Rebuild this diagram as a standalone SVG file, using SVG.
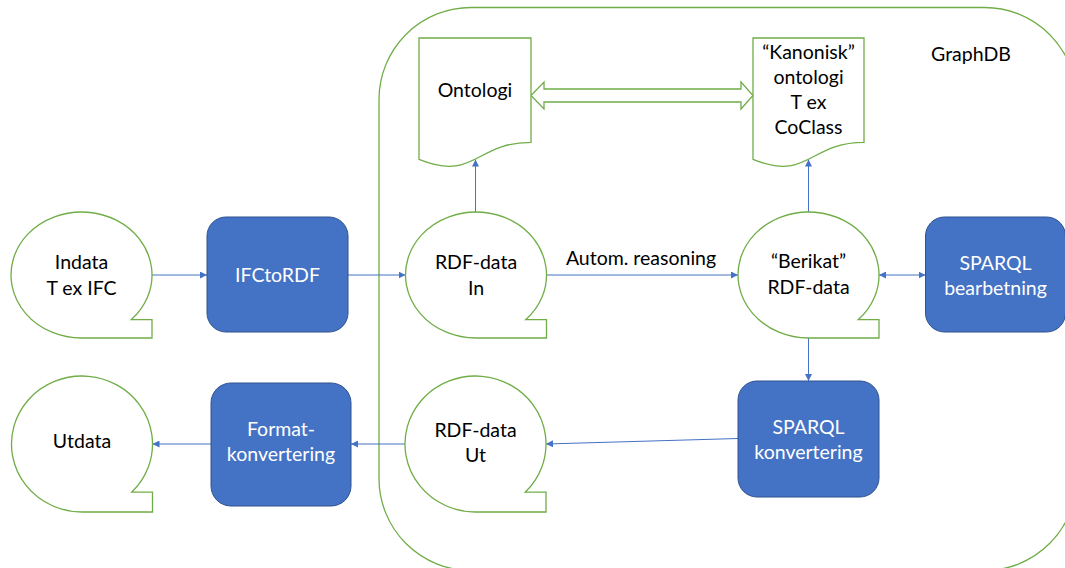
<svg xmlns="http://www.w3.org/2000/svg" width="1065" height="568" viewBox="0 0 1065 568">
  <style>
    .store, .doc, .frame, .dbl { fill: #FFFFFF; stroke: #70AD47; stroke-width: 1.3; }
    .frame { fill: none; }
    .proc { fill: #4472C4; stroke: #2F528F; stroke-width: 1; }
    text { font-family: Lato, "Liberation Sans", sans-serif; font-size: 19.5px; text-anchor: middle; }
    .dark { fill: #000000; }
    .light { fill: #FFFFFF; }
    .conn line { stroke: #4472C4; stroke-width: 1; fill: none; }
  </style>
  <defs>
    <marker id="head" viewBox="0 0 7 7" refX="7" refY="3.5" markerWidth="7" markerHeight="7" markerUnits="userSpaceOnUse" orient="auto-start-reverse">
      <path d="M0,0 L7,3.5 L0,7 Z" fill="#4472C4"/>
    </marker>
  </defs>
  <rect width="1065" height="568" fill="#FFFFFF"/>

  <!-- GraphDB boundary -->
  <g id="graphdb">
    <rect class="frame" x="379" y="7.5" width="697.5" height="563" rx="92" ry="92"/>
    <text class="dark" x="971" y="61">GraphDB</text>
  </g>

  <!-- connectors -->
  <g id="connectors" class="conn">
    <line x1="152" y1="275" x2="207" y2="275" marker-end="url(#head)"/>
    <line x1="348" y1="275" x2="405.5" y2="275" marker-end="url(#head)"/>
    <line x1="546.5" y1="275" x2="738" y2="275" marker-end="url(#head)"/>
    <line x1="879" y1="275" x2="925.5" y2="275" marker-start="url(#head)" marker-end="url(#head)"/>
    <line x1="475.5" y1="212" x2="475.5" y2="159.5" marker-end="url(#head)"/>
    <line x1="808.5" y1="212" x2="808.5" y2="159.5" marker-end="url(#head)"/>
    <line x1="808.5" y1="338" x2="808.5" y2="381" marker-end="url(#head)"/>
    <line x1="738" y1="438.5" x2="546" y2="444" marker-end="url(#head)"/>
    <line x1="405" y1="444" x2="351" y2="444" marker-end="url(#head)"/>
    <line x1="211" y1="444" x2="152.5" y2="444" marker-end="url(#head)"/>
    <polygon class="dbl" points="531,95.5 544,82 544,89 741,89 741,82 753,95.5 741,109 741,102 544,102 544,109"/>
    <text class="dark" x="641" y="265">Autom. reasoning</text>
  </g>

  <g id="indata">
    <path class="store" d="M81.5,338 A70.5,63 0 1 1 131.35,319.55 L152,319.55 L152,338 Z"/>
    <text class="dark" x="81.5" y="269">Indata</text>
    <text class="dark" x="81.5" y="295">T ex IFC</text>
  </g>

  <g id="ifctordf">
    <rect class="proc" x="207" y="217" width="141" height="115" rx="19" ry="19"/>
    <text class="light" x="277.5" y="282">IFCtoRDF</text>
  </g>

  <g id="rdf-in">
    <path class="store" d="M476,338 A70.5,63 0 1 1 525.85,319.55 L546.5,319.55 L546.5,338 Z"/>
    <text class="dark" x="476" y="269">RDF-data</text>
    <text class="dark" x="476" y="295">In</text>
  </g>

  <g id="berikat">
    <path class="store" d="M808.5,338 A70.5,63 0 1 1 858.35,319.55 L879,319.55 L879,338 Z"/>
    <text class="dark" x="808.5" y="268">“Berikat”</text>
    <text class="dark" x="808.5" y="294">RDF-data</text>
  </g>

  <g id="sparql-bearbetning">
    <rect class="proc" x="925.5" y="217" width="140" height="115" rx="19" ry="19"/>
    <text class="light" x="995.5" y="270">SPARQL</text>
    <text class="light" x="995.5" y="295">bearbetning</text>
  </g>

  <g id="ontologi">
    <path class="doc" d="M419,38 H531 V142.3 C475,142.3 475,182 419,159.4 Z"/>
    <text class="dark" x="475" y="97">Ontologi</text>
  </g>

  <g id="kanonisk">
    <path class="doc" d="M753,38 H864 V142.3 C808.5,142.3 808.5,182 753,159.4 Z"/>
    <text class="dark" x="808.5" y="59">“Kanonisk”</text>
    <text class="dark" x="808.5" y="84">ontologi</text>
    <text class="dark" x="808.5" y="109">T ex</text>
    <text class="dark" x="808.5" y="134">CoClass</text>
  </g>

  <g id="sparql-konvertering">
    <rect class="proc" x="738" y="381" width="141" height="116" rx="19" ry="19"/>
    <text class="light" x="808.5" y="434">SPARQL</text>
    <text class="light" x="808.5" y="459">konvertering</text>
  </g>

  <g id="rdf-ut">
    <path class="store" d="M475.5,512 A70.5,68 0 1 1 525.35,492.08 L546,492.08 L546,512 Z"/>
    <text class="dark" x="475.5" y="437">RDF-data</text>
    <text class="dark" x="475.5" y="462">Ut</text>
  </g>

  <g id="formatkonvertering">
    <rect class="proc" x="211" y="383" width="140" height="123" rx="20" ry="20"/>
    <text class="light" x="281" y="436">Format-</text>
    <text class="light" x="281" y="461">konvertering</text>
  </g>

  <g id="utdata">
    <path class="store" d="M82,512 A70.5,68 0 1 1 131.85,492.08 L152.5,492.08 L152.5,512 Z"/>
    <text class="dark" x="82" y="448">Utdata</text>
  </g>
</svg>
